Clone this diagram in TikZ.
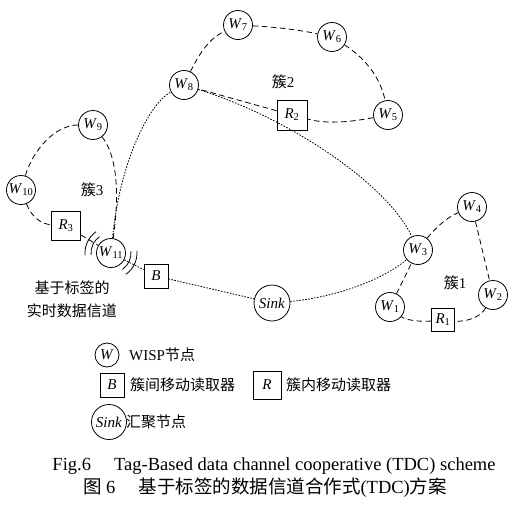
\documentclass[tikz,border=0pt]{standalone}
\usepackage{fontspec}
\setmainfont{Liberation Serif}
\newfontfamily\cjk{Noto Sans CJK SC}
\usetikzlibrary{calc}
\newcommand\Wlab[1]{\textit{W}\textsubscript{#1}}
\newcommand\Rlab[1]{\textit{R}\textsubscript{#1}}
\begin{document}
\begin{tikzpicture}[x=1pt,y=-1pt,font=\fontsize{15}{18}\selectfont,
  wn/.style={circle,draw,line width=0.8pt,minimum size=29pt,inner sep=0pt},
  sq/.style={draw,line width=0.8pt,minimum size=29pt,inner sep=0pt},
  cl/.style={line width=0.8pt,dash pattern=on 5.5pt off 3.5pt},
  dl/.style={line width=0.8pt,dash pattern=on 1.6pt off 1.4pt},
  wave/.style={line width=0.8pt},
  txt/.style={inner sep=0pt},
  captxt/.style={inner sep=0pt,font=\fontsize{18.5}{22}\selectfont}]
\useasboundingbox (0,0) rectangle (517,512);
% cluster 2
\node[wn] (W7) at (238,25) {\Wlab{7}};
\node[wn] (W6) at (332,37) {\Wlab{6}};
\node[wn] (W8) at (184,85) {\Wlab{8}};
\node[wn] (W5) at (388,115) {\Wlab{5}};
\node[sq,minimum size=30pt] (R2) at (292,115) {\Rlab{2}};
\node[txt] (C2) at (283,82) {{\cjk 簇}2};
% cluster 3
\node[wn] (W9) at (93,125) {\Wlab{9}};
\node[wn] (W10) at (21,190) {\Wlab{10}};
\node[sq] (R3) at (66,226) {\Rlab{3}};
\node[wn] (W11) at (111,253) {\Wlab{11}};
\node[sq,minimum size=24pt] (B) at (156,276) {\textit{B}};
\node[txt] (C3) at (92,190) {{\cjk 簇}3};
\node[txt] (T1) at (72,288) {\cjk 基于标签的};
\node[txt] (T2) at (72,311) {\cjk 实时数据信道};
% cluster 1
\node[wn] (W4) at (472,207) {\Wlab{4}};
\node[wn] (W3) at (418,250) {\Wlab{3}};
\node[wn] (W1) at (390,307) {\Wlab{1}};
\node[wn] (W2) at (493,295) {\Wlab{2}};
\node[sq,minimum size=23pt] (R1) at (443,320) {\Rlab{1}};
\node[txt] (C1) at (455,283) {{\cjk 簇}1};
% sink
\node[wn,minimum size=36pt] (S) at (272,303) {\textit{Sink}};
% cluster 2 links
\draw[cl] (W8) .. controls (200,52) and (210,38) .. (W7);
\draw[cl] (W7) .. controls (275,27) and (300,30) .. (W6);
\draw[cl] (W6) .. controls (362,56) and (380,75) .. (W5);
\draw[cl] (W5) .. controls (355,121) and (330,125) .. (R2);
\draw[cl] (R2) -- (W8);
% cluster 3 links
\draw[cl] (W9) .. controls (55,125) and (33,150) .. (W10);
\draw[cl] (W9) .. controls (120,160) and (118,205) .. (W11);
\draw[cl] (W10) .. controls (32,218) and (42,224) .. (R3);
\draw[cl] (R3) -- (W11);
% cluster 1 links
\draw[cl] (W3) .. controls (432,232) and (445,218) .. (W4);
\draw[cl] (W4) -- (W2);
\draw[cl] (W2) .. controls (480,318) and (465,322) .. (R1);
\draw[cl] (R1) .. controls (420,322) and (405,320) .. (W1);
\draw[cl] (W1) -- (W3);
% inter-cluster (dotted)
\draw[dl] (W11) .. controls (120,160) and (150,103) .. (W8);
\draw[dl] (W8) .. controls (290,118) and (388,185) .. (W3);
\draw[dl] (W11) -- (B);
\draw[dl] (B) -- (S);
\draw[dl] (S) .. controls (330,298) and (380,282) .. (W3);
% waves around W11
\foreach \r in {20,26}{
  \draw[wave] ($(W11)+(-185:\r)$) arc[start angle=-185, end angle=-125, radius=\r];
  \draw[wave] ($(W11)+(-5:\r)$) arc[start angle=-5, end angle=55, radius=\r];
}
% legend
\node[wn,minimum size=24pt] (LW) at (107,355) {\textit{W}};
\node[txt,anchor=west] (LWt) at (129,355) {WISP{\cjk 节点}};
\node[sq,minimum size=24pt] (LB) at (112,385) {\textit{B}};
\node[txt,anchor=west] (LBt) at (130,385) {\cjk 簇间移动读取器};
\node[sq,minimum size=28pt] (LR) at (267,385) {\textit{R}};
\node[txt,anchor=west] (LRt) at (286,385) {\cjk 簇内移动读取器};
\node[wn,minimum size=35pt] (LS) at (109,422) {\textit{Sink}};
\node[txt,anchor=west] (LSt) at (126,422) {\cjk 汇聚节点};
% caption
\node[captxt] (cap1) at (274,466) {Fig.6\quad\ Tag-Based data channel cooperative (TDC) scheme};
\node[captxt] (cap2) at (265,488) {{\cjk 图} 6\quad\ {\cjk 基于标签的数据信道合作式}(TDC){\cjk 方案}};
\end{tikzpicture}
\end{document}
